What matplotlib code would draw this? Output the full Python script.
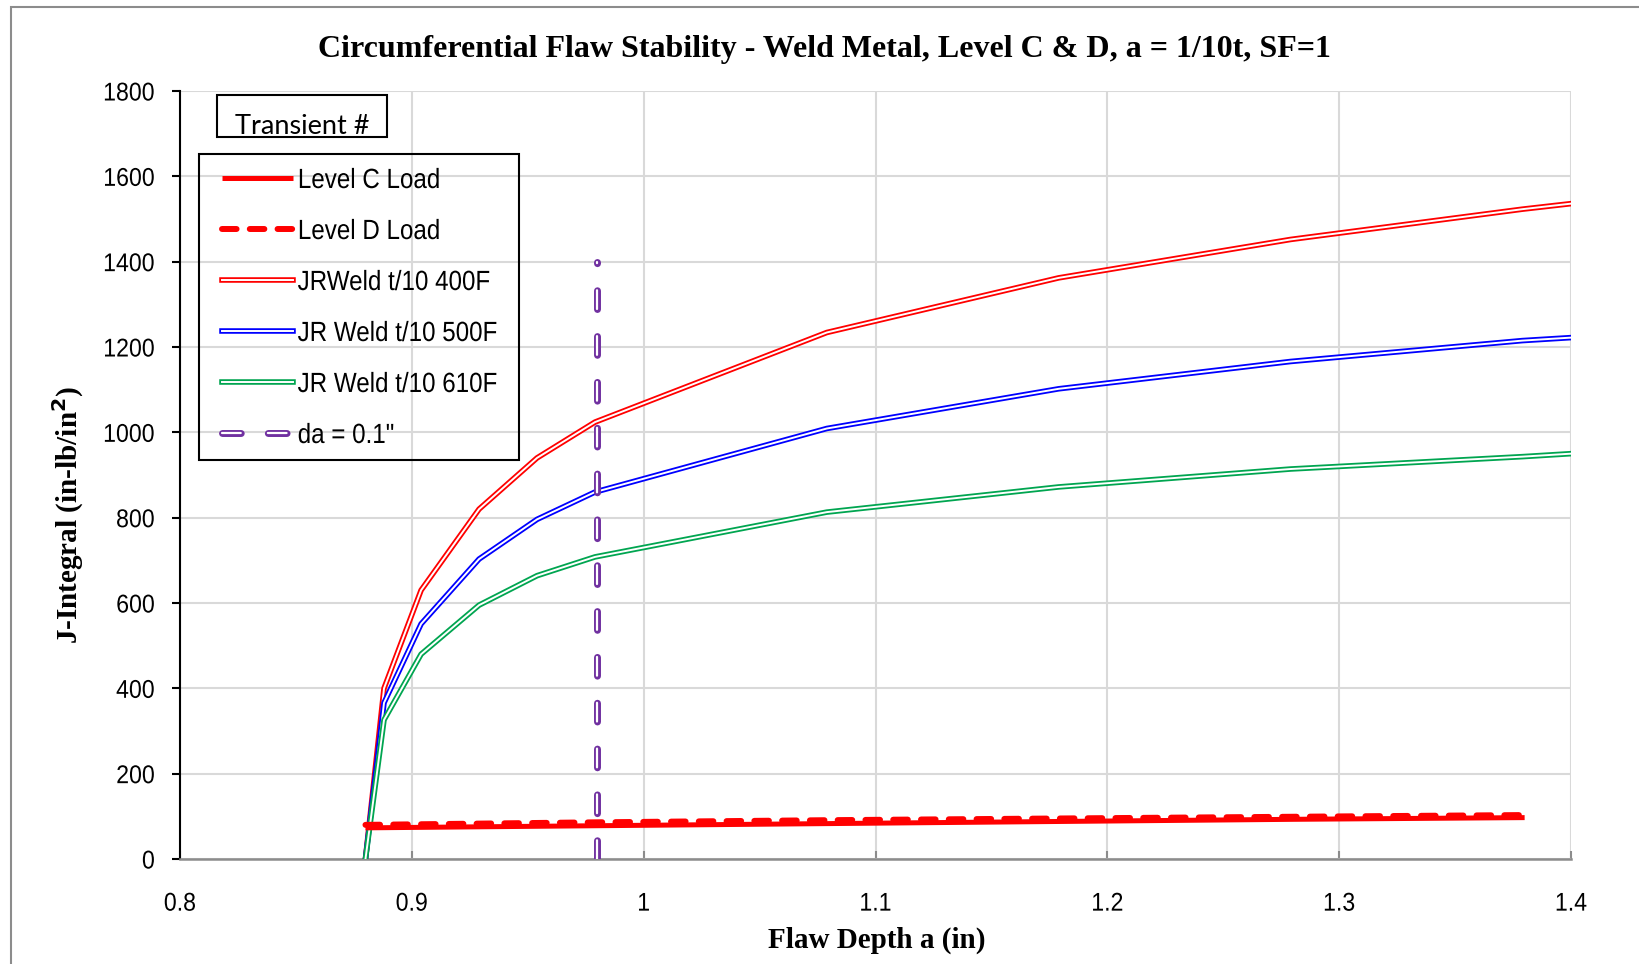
import matplotlib
matplotlib.use("Agg")
import matplotlib.pyplot as plt
import matplotlib.patheffects as pe
from matplotlib.patches import Rectangle
from matplotlib.transforms import Affine2D

plt.rcParams['lines.scale_dashes'] = False
sans = ['Liberation Sans', 'DejaVu Sans']
serif = ['Liberation Serif', 'DejaVu Serif']

# flaw depth points for the JR curves
x_jr = [0.88, 0.888, 0.904, 0.929, 0.954, 0.979, 1.079, 1.179, 1.279, 1.379, 1.40]
jr_400 = [0, 400, 630, 820, 940, 1024, 1234, 1362, 1452, 1523, 1536]
jr_500 = [0, 366, 551, 703, 796, 860, 1009, 1102, 1166, 1215, 1222]
jr_610 = [0, 326, 480, 595, 664, 708, 813, 872, 914, 943, 950]

# applied loads
x_load = [0.88, 0.98, 1.08, 1.18, 1.28, 1.38]
level_c = [73, 78, 83, 88, 93, 97]
level_d = [80, 86, 91, 95, 99, 103]

# da = 0.1" marker
x_da = [0.98, 0.98]
y_da = [0, 1400]


class Condense(pe.AbstractPathEffect):
    """squeeze text sideways, a stand-in for Arial Narrow"""

    def __init__(self, sx=0.87, anchor='left'):
        super().__init__()
        self.sx = sx
        self.anchor = anchor

    def draw_path(self, renderer, gc, tpath, affine, rgbFace=None):
        ext = tpath.get_extents(affine)
        x0 = {'left': ext.x0, 'center': (ext.x0 + ext.x1) / 2, 'right': ext.x1}[self.anchor]
        t = affine + Affine2D().translate(-x0, 0).scale(self.sx, 1).translate(x0, 0)
        renderer.draw_path(gc, tpath, t, rgbFace)


def hollow(color, outer=4.0):
    return [pe.Stroke(linewidth=outer, foreground=color), pe.Normal()]


fig = plt.figure(figsize=(16.4, 9.64), dpi=100)
ax = fig.add_axes([180/1640, 1-859/964, (1571-180)/1640, (859-91)/964])

# gray outline round the chart
fig.patches.append(Rectangle((11/1640, -0.05), 1.2, 1.05-7/964, transform=fig.transFigure,
                             fill=False, edgecolor='#8c8c8c', lw=1.5))

ax.plot(x_load, level_c, color='#ff0000', lw=3.6, solid_capstyle='butt', label='Level C Load', zorder=4)
ax.plot(x_load, level_d, color='#ff0000', lw=4.3, dashes=(10.5, 9.5), dash_capstyle='round',
        label='Level D Load', zorder=4)
ax.plot(x_jr, jr_400, color='white', lw=1.4, path_effects=hollow('#ff0000'), label='JRWeld t/10 400F', zorder=3)
ax.plot(x_jr, jr_500, color='white', lw=1.4, path_effects=hollow('#0000ff'), label='JR Weld t/10 500F', zorder=3)
ax.plot(x_jr, jr_610, color='white', lw=1.4, path_effects=hollow('#00a550'), label='JR Weld t/10 610F', zorder=3)
ax.plot(x_da, y_da, color='white', lw=1.6, dashes=(13.5, 19.5), dash_capstyle='round',
        path_effects=hollow('#7030a0', 5.0), label='da = 0.1"', zorder=5)

ax.set_xlim(0.8, 1.4)
ax.set_ylim(0, 1800)
ax.set_xticks([0.8, 0.9, 1.0, 1.1, 1.2, 1.3, 1.4])
ax.set_xticklabels(['0.8', '0.9', '1', '1.1', '1.2', '1.3', '1.4'])
ax.set_yticks(range(0, 1801, 200))
ax.grid(True, color='#d9d9d9', lw=1.5)
ax.set_axisbelow(True)

for s in ['top', 'right']:
    ax.spines[s].set_visible(False)
ax.spines['left'].set_color('black')
ax.spines['left'].set_linewidth(1.5)
ax.spines['bottom'].set_color('#8c8c8c')
ax.spines['bottom'].set_linewidth(1.8)
ax.tick_params(axis='y', direction='out', length=6, width=1.5, color='black', pad=12, labelsize=18.5)
ax.tick_params(axis='x', direction='in', length=6, width=1.5, color='#8c8c8c', pad=23.5, labelsize=18.5)
for lab in ax.get_yticklabels():
    lab.set_family(sans)
    lab.set_path_effects([Condense(0.9, 'right')])
for lab in ax.get_xticklabels():
    lab.set_family(sans)
    lab.set_path_effects([Condense(0.9, 'center')])

fig.text(0.503, 1-50/964, 'Circumferential Flaw Stability - Weld Metal, Level C & D, a = 1/10t, SF=1',
         ha='center', va='center', fontsize=23, fontweight='bold', family=serif)
fig.text(877/1640, 1-940/964, 'Flaw Depth a (in)', ha='center', va='center',
         fontsize=21, fontweight='bold', family=serif)
fig.text(68/1640, 1-515/964, 'J-Integral (in-lb/in$^\\mathbf{2}$)', ha='center', va='center',
         rotation=90, fontsize=21, fontweight='bold', family=serif)

leg = ax.legend(loc='upper left', bbox_to_anchor=(222/1640, 1-168/964), bbox_transform=fig.transFigure,
                borderaxespad=0, frameon=False, borderpad=0,
                prop={'family': sans, 'size': 20}, handlelength=2.55, handletextpad=0.17,
                labelspacing=0.9)
for t in leg.get_texts():
    t.set_path_effects([Condense(0.87, 'left')])
# legend frame drawn on its own, since the squeezed text leaves the auto box too wide
fig.patches.append(Rectangle((199/1640, 1-460/964), 320/1640, 306/964, transform=fig.transFigure,
                             fill=False, edgecolor='black', lw=1.5, zorder=6))

fig.patches.append(Rectangle((217/1640, 1-137/964), 170/1640, 42/964, transform=fig.transFigure,
                             facecolor='white', edgecolor='black', lw=1.5, zorder=6))
fig.text(302/1640, 1-134/964, 'Transient #', ha='center', va='baseline', fontsize=19.5,
         family=['Lato', 'DejaVu Sans'], zorder=7)

fig.savefig('out.png', dpi=100)
